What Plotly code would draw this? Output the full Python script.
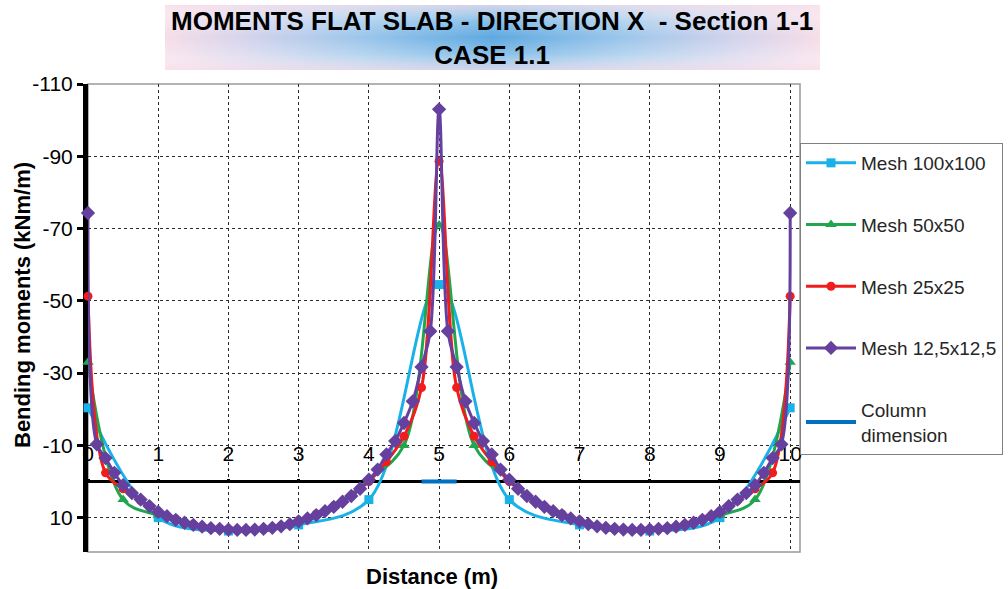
import plotly.graph_objects as go

W, H = 1008, 589

# ---------------- data ----------------
names = ["Mesh 100x100", "Mesh 50x50", "Mesh 25x25", "Mesh 12,5x12,5"]
colors = ["#19B2E8", "#1FA64E", "#F21C1C", "#65409E"]
symbols = ["square", "triangle-up", "circle", "diamond"]

step_100 = 1.0
m_100 = [-20.4, 10.0, 13.7, 12.0, 5.0, -54.5, 5.0, 12.0, 13.7, 10.0, -20.4]

step_50 = 0.5
m_50 = [-33.0, 5.0, 9.3, 11.8, 13.3, 13.3, 11.0, 6.8, -0.5, -10.0, -71.0,
        -10.0, -0.5, 6.8, 11.0, 13.3, 13.3, 11.8, 9.3, 5.0, -33.0]

step_25 = 0.25
m_25 = [-51.3, -2.4, 2.0, 5.3, 8.3, 10.4, 11.9, 12.8, 13.3, 13.4, 13.2, 12.3, 10.8,
        9.0, 6.8, 4.0, 0.0, -5.5, -12.5, -26.0, -88.6,
        -26.0, -12.5, -5.5, 0.0, 4.0, 6.8, 9.0, 10.8, 12.3, 13.2, 13.4, 13.3, 12.8,
        11.9, 10.4, 8.3, 5.3, 2.0, -2.4, -51.3]

step_125 = 0.125
m_125 = [-74.3, -10.3, -6.5, -2.4, 1.0, 3.2, 5.0, 6.8, 8.4, 9.6, 10.6, 11.4, 12.0,
         12.5, 12.9, 13.1, 13.3, 13.4, 13.4, 13.3, 13.1, 12.8, 12.4, 11.8, 11.0,
         10.2, 9.3, 8.2, 7.0, 5.6, 4.0, 2.0, -0.5, -3.3, -7.5, -11.2, -16.2, -22.2,
         -31.7, -41.6, -103.0,
         -41.6, -31.7, -22.2, -16.2, -11.2, -7.5, -3.3, -0.5, 2.0, 4.0, 5.6, 7.0,
         8.2, 9.3, 10.2, 11.0, 11.8, 12.4, 12.8, 13.1, 13.3, 13.4, 13.4, 13.3, 13.1,
         12.9, 12.5, 12.0, 11.4, 10.6, 9.6, 8.4, 6.8, 5.0, 3.2, 1.0, -2.4, -6.5,
         -10.3, -74.3]

column_x = [4.75, 5.25]
column_y = [0, 0]

x_ticks = [0, 1, 2, 3, 4, 5, 6, 7, 8, 9, 10]
y_ticks = [-110, -90, -70, -50, -30, -10, 10]

title_text = "MOMENTS FLAT SLAB - DIRECTION X  - Section 1-1<br>CASE 1.1"

series = [(step_100, m_100), (step_50, m_50), (step_25, m_25), (step_125, m_125)]

# ---------------- layout geometry ----------------
px_l, px_r, px_t, px_b = 88, 800, 84, 552
X_RANGE = [0, 10.14]
Y_RANGE = [19.5, -110]

FONT = "Liberation Sans, Arial, sans-serif"

fig = go.Figure()

# title background: horizontal pink-blue-pink gradient plus a soft vertical veil
box = dict(x=[0, 1, 1, 0, 0], y=[0, 0, 1, 1, 0], xaxis="x2", yaxis="y2",
           mode="lines", fill="toself", line=dict(width=0),
           showlegend=False, hoverinfo="skip")
fig.add_trace(go.Scatter(**box, fillgradient=dict(
    type="horizontal",
    colorscale=[[0, "#F6DDE7"], [0.12, "#D6D4EC"], [0.3, "#9CC6EA"],
                [0.5, "#5EA9E1"], [0.7, "#9CC6EA"], [0.88, "#D6D4EC"], [1, "#F6DDE7"]])))
fig.add_trace(go.Scatter(**box, fillgradient=dict(
    type="vertical",
    colorscale=[[0, "rgba(250,225,235,0.75)"], [0.25, "rgba(255,255,255,0.25)"],
                [0.5, "rgba(255,255,255,0)"], [0.75, "rgba(255,255,255,0.25)"],
                [1, "rgba(250,225,235,0.75)"]])))

sizes = [9, 10, 9, 11]
for i, (name, col, sym, (stp, vals)) in enumerate(zip(names, colors, symbols, series)):
    xs = [k * stp for k in range(len(vals))]
    fig.add_trace(go.Scatter(
        x=xs, y=vals, name=name, mode="lines+markers",
        line=dict(color=col, width=3, shape="spline"),
        marker=dict(symbol=sym, size=sizes[i], color=col),
        cliponaxis=False, legendgroup=name))

fig.add_trace(go.Scatter(
    x=column_x, y=column_y, name="Column<br>dimension", mode="lines",
    line=dict(color="#0070C0", width=4), legendgroup="col"))

yd0 = (H - px_b) / H
yd1 = (H - px_t) / H
ypos_zero = yd0 + (Y_RANGE[0] - 0) / (Y_RANGE[0] - Y_RANGE[1]) * (yd1 - yd0)

fig.update_layout(
    width=W, height=H,
    margin=dict(l=0, r=0, t=0, b=0, autoexpand=False),
    paper_bgcolor="white", plot_bgcolor="white",
    font=dict(family=FONT, color="black"),
    xaxis=dict(domain=[px_l / W, px_r / W], range=X_RANGE,
               tickvals=x_ticks, ticktext=[str(v) for v in x_ticks],
               side="top", anchor="free", position=ypos_zero,
               showline=False, ticks="outside", ticklen=3, tickwidth=3, tickcolor="black",
               ticklabelstandoff=9,
               tickfont=dict(size=21, color="black"),
               showgrid=True, gridcolor="#2a2a2a", griddash="dot", gridwidth=1,
               zeroline=False, layer="below traces"),
    yaxis=dict(domain=[yd0, yd1], range=Y_RANGE, tickvals=y_ticks,
               ticktext=[str(v) for v in y_ticks],
               showline=True, linewidth=5, linecolor="black",
               ticks="outside", ticklen=6, tickwidth=3, tickcolor="black",
               tickfont=dict(size=21, color="black"),
               showgrid=True, gridcolor="#2a2a2a", griddash="dot", gridwidth=1,
               zeroline=True, zerolinecolor="black", zerolinewidth=3,
               layer="below traces"),
    xaxis2=dict(domain=[165 / W, 820 / W], range=[0, 1], visible=False, fixedrange=True),
    yaxis2=dict(domain=[(H - 70) / H, (H - 5) / H], range=[0, 1], visible=False,
                anchor="x2", fixedrange=True),
    legend=dict(x=800 / W, y=(H - 143) / H, xanchor="left", yanchor="top",
                bordercolor="#808080", borderwidth=1, bgcolor="white",
                font=dict(size=19, color="#262626", family=FONT),
                tracegroupgap=34, itemwidth=50),
    showlegend=True,
)

# plot frame
fig.add_shape(type="rect", xref="x domain", yref="y domain", x0=0, x1=1, y0=0, y1=1,
              line=dict(color="#9a9a9a", width=1.5), layer="below")

# title
fig.add_annotation(text="<b>" + title_text + "</b>", xref="paper", yref="paper",
                   x=492 / W, y=(H - 38) / H, xanchor="center", yanchor="middle",
                   showarrow=False, font=dict(size=26, color="black", family=FONT))
# axis titles
fig.add_annotation(text="<b>Distance (m)</b>", xref="paper", yref="paper",
                   x=432 / W, y=(H - 576) / H, xanchor="center", yanchor="middle",
                   showarrow=False, font=dict(size=22, color="black", family=FONT))
fig.add_annotation(text="<b>Bending moments (kNm/m)</b>", xref="paper", yref="paper",
                   x=22 / W, y=(H - 305) / H, xanchor="center", yanchor="middle",
                   textangle=-90, showarrow=False,
                   font=dict(size=22, color="black", family=FONT))

fig.write_html("out.html", config={"displayModeBar": False},
               post_script="document.body.style.margin='0';")
